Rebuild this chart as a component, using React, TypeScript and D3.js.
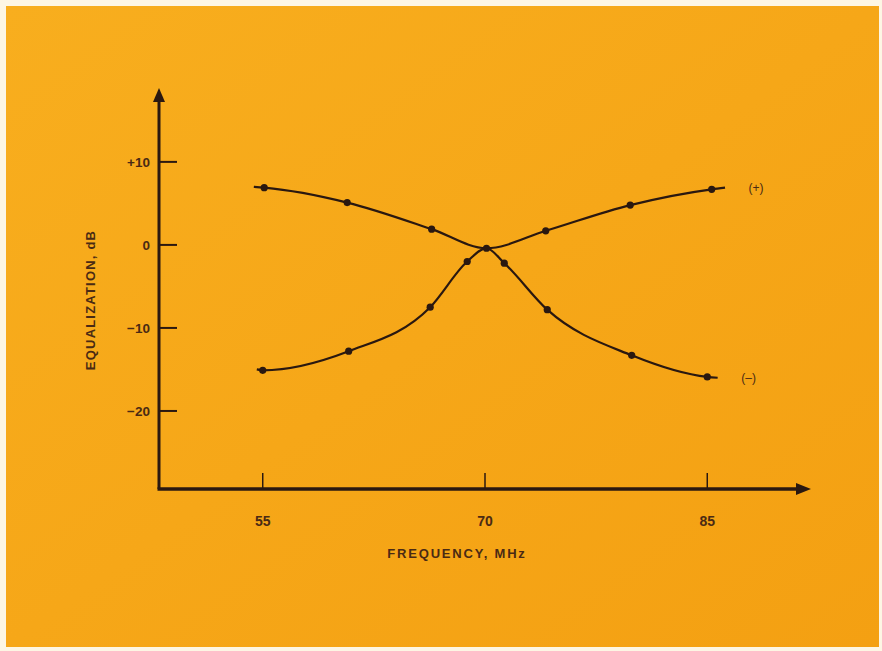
import React, { useEffect, useRef } from "react";
import * as d3 from "d3";

// frequency (MHz) / equalization (dB)
const plusFreq = [54.4, 55.1, 60.7, 66.4, 70.1, 74.1, 79.8, 85.3, 86.2];
const plusEq = [7.0, 6.9, 5.1, 1.9, -0.4, 1.7, 4.8, 6.7, 6.9];
const plusDots = [false, true, true, true, false, true, true, true, false];

const minusFreq = [54.6, 55.0, 60.8, 66.3, 68.8, 70.1, 71.3, 74.2, 79.9, 85.0, 85.7];
const minusEq = [-15.0, -15.1, -12.8, -7.5, -2.0, -0.4, -2.2, -7.8, -13.3, -15.9, -16.0];
const minusDots = [false, true, true, true, true, true, true, true, true, true, false];

const xTicks = [55, 70, 85];
const yTicks = [10, 0, -10, -20];
const yTickLabels = ["+10", "0", "\u221210", "\u221220"];

const W = 882;
const H = 651;
const ink = "#2a1810";
const textInk = "#4a2a14";
const font = "'Liberation Sans', Arial, sans-serif";

const App: React.FC = () => {
  const svgRef = useRef<SVGSVGElement | null>(null);

  useEffect(() => {
    const svg = d3.select(svgRef.current);
    svg.selectAll("*").remove();

    // paper background
    const defs = svg.append("defs");
    const grad = defs
      .append("linearGradient")
      .attr("id", "paper")
      .attr("x1", 0)
      .attr("y1", 0)
      .attr("x2", 1)
      .attr("y2", 1);
    grad.append("stop").attr("offset", "0%").attr("stop-color", "#f8ae1e");
    grad.append("stop").attr("offset", "100%").attr("stop-color", "#f4a012");

    svg.append("rect").attr("width", W).attr("height", H).attr("fill", "#fdf6e4");
    svg
      .append("rect")
      .attr("x", 6)
      .attr("y", 6)
      .attr("width", W - 9)
      .attr("height", H - 10)
      .attr("fill", "url(#paper)");

    const x = d3.scaleLinear().domain([48, 92]).range([159, 811]);
    const y = d3.scaleLinear().domain([-29.4, 18.9]).range([489, 88]);

    const g = svg.append("g");

    // axes with arrows
    const x0 = x(48);
    const y0 = y(-29.4);
    g.append("line")
      .attr("x1", x0)
      .attr("y1", y0)
      .attr("x2", x0)
      .attr("y2", y(18.9) + 10)
      .attr("stroke", ink)
      .attr("stroke-width", 3);
    g.append("path")
      .attr("d", `M${x0},${y(18.9)} l-6,14 l12,0 z`)
      .attr("fill", ink);
    g.append("line")
      .attr("x1", x0 - 1.5)
      .attr("y1", y0)
      .attr("x2", x(92) - 10)
      .attr("y2", y0)
      .attr("stroke", ink)
      .attr("stroke-width", 3.5);
    g.append("path")
      .attr("d", `M${x(92)},${y0} l-15,-6 l0,12 z`)
      .attr("fill", ink);

    // ticks
    yTicks.forEach((t, i) => {
      g.append("line")
        .attr("x1", x0)
        .attr("x2", x0 + 18)
        .attr("y1", y(t))
        .attr("y2", y(t))
        .attr("stroke", ink)
        .attr("stroke-width", 2);
      g.append("text")
        .attr("x", x0 - 9)
        .attr("y", y(t))
        .attr("dy", "0.35em")
        .attr("text-anchor", "end")
        .attr("font-family", font)
        .attr("font-size", 13.5)
        .attr("font-weight", "bold")
        .attr("fill", textInk)
        .text(yTickLabels[i]);
    });
    xTicks.forEach((t) => {
      g.append("line")
        .attr("x1", x(t))
        .attr("x2", x(t))
        .attr("y1", y0)
        .attr("y2", y0 - 16)
        .attr("stroke", ink)
        .attr("stroke-width", 1.5);
      g.append("text")
        .attr("x", x(t))
        .attr("y", y0 + 37)
        .attr("text-anchor", "middle")
        .attr("font-family", font)
        .attr("font-size", 14)
        .attr("font-weight", "bold")
        .attr("fill", textInk)
        .text(String(t));
    });

    // axis titles
    g.append("text")
      .attr("x", 457)
      .attr("y", 558)
      .attr("text-anchor", "middle")
      .attr("font-family", font)
      .attr("font-size", 13)
      .attr("font-weight", "bold")
      .attr("letter-spacing", 1.8)
      .attr("fill", textInk)
      .text("FREQUENCY, MHz");
    g.append("text")
      .attr("transform", `translate(95,${300}) rotate(-90)`)
      .attr("text-anchor", "middle")
      .attr("font-family", font)
      .attr("font-size", 13)
      .attr("font-weight", "bold")
      .attr("letter-spacing", 1.2)
      .attr("fill", textInk)
      .text("EQUALIZATION, dB");

    // curves
    const line = d3
      .line<[number, number]>()
      .x((d) => x(d[0]))
      .y((d) => y(d[1]))
      .curve(d3.curveMonotoneX);

    const series = [
      { f: plusFreq, v: plusEq, dots: plusDots, label: "(+)" },
      { f: minusFreq, v: minusEq, dots: minusDots, label: "(\u2013)" },
    ];

    series.forEach((s) => {
      const pts = s.f.map((f, i) => [f, s.v[i]] as [number, number]);
      g.append("path")
        .attr("d", line(pts))
        .attr("fill", "none")
        .attr("stroke", ink)
        .attr("stroke-width", 2.2);
      g.selectAll(null)
        .data(pts.filter((_, i) => s.dots[i]))
        .enter()
        .append("circle")
        .attr("cx", (d) => x(d[0]))
        .attr("cy", (d) => y(d[1]))
        .attr("r", 3.6)
        .attr("fill", ink);
      const last = pts[pts.length - 1];
      g.append("text")
        .attr("x", x(last[0]) + 31)
        .attr("y", y(last[1]))
        .attr("dy", "0.35em")
        .attr("text-anchor", "middle")
        .attr("font-family", font)
        .attr("font-size", 12)
        .attr("fill", textInk)
        .text(s.label);
    });
  }, []);

  return (
    <svg
      ref={svgRef}
      width={W}
      height={H}
      style={{ position: "absolute", left: 0, top: 0, display: "block" }}
    />
  );
};

export default App;
